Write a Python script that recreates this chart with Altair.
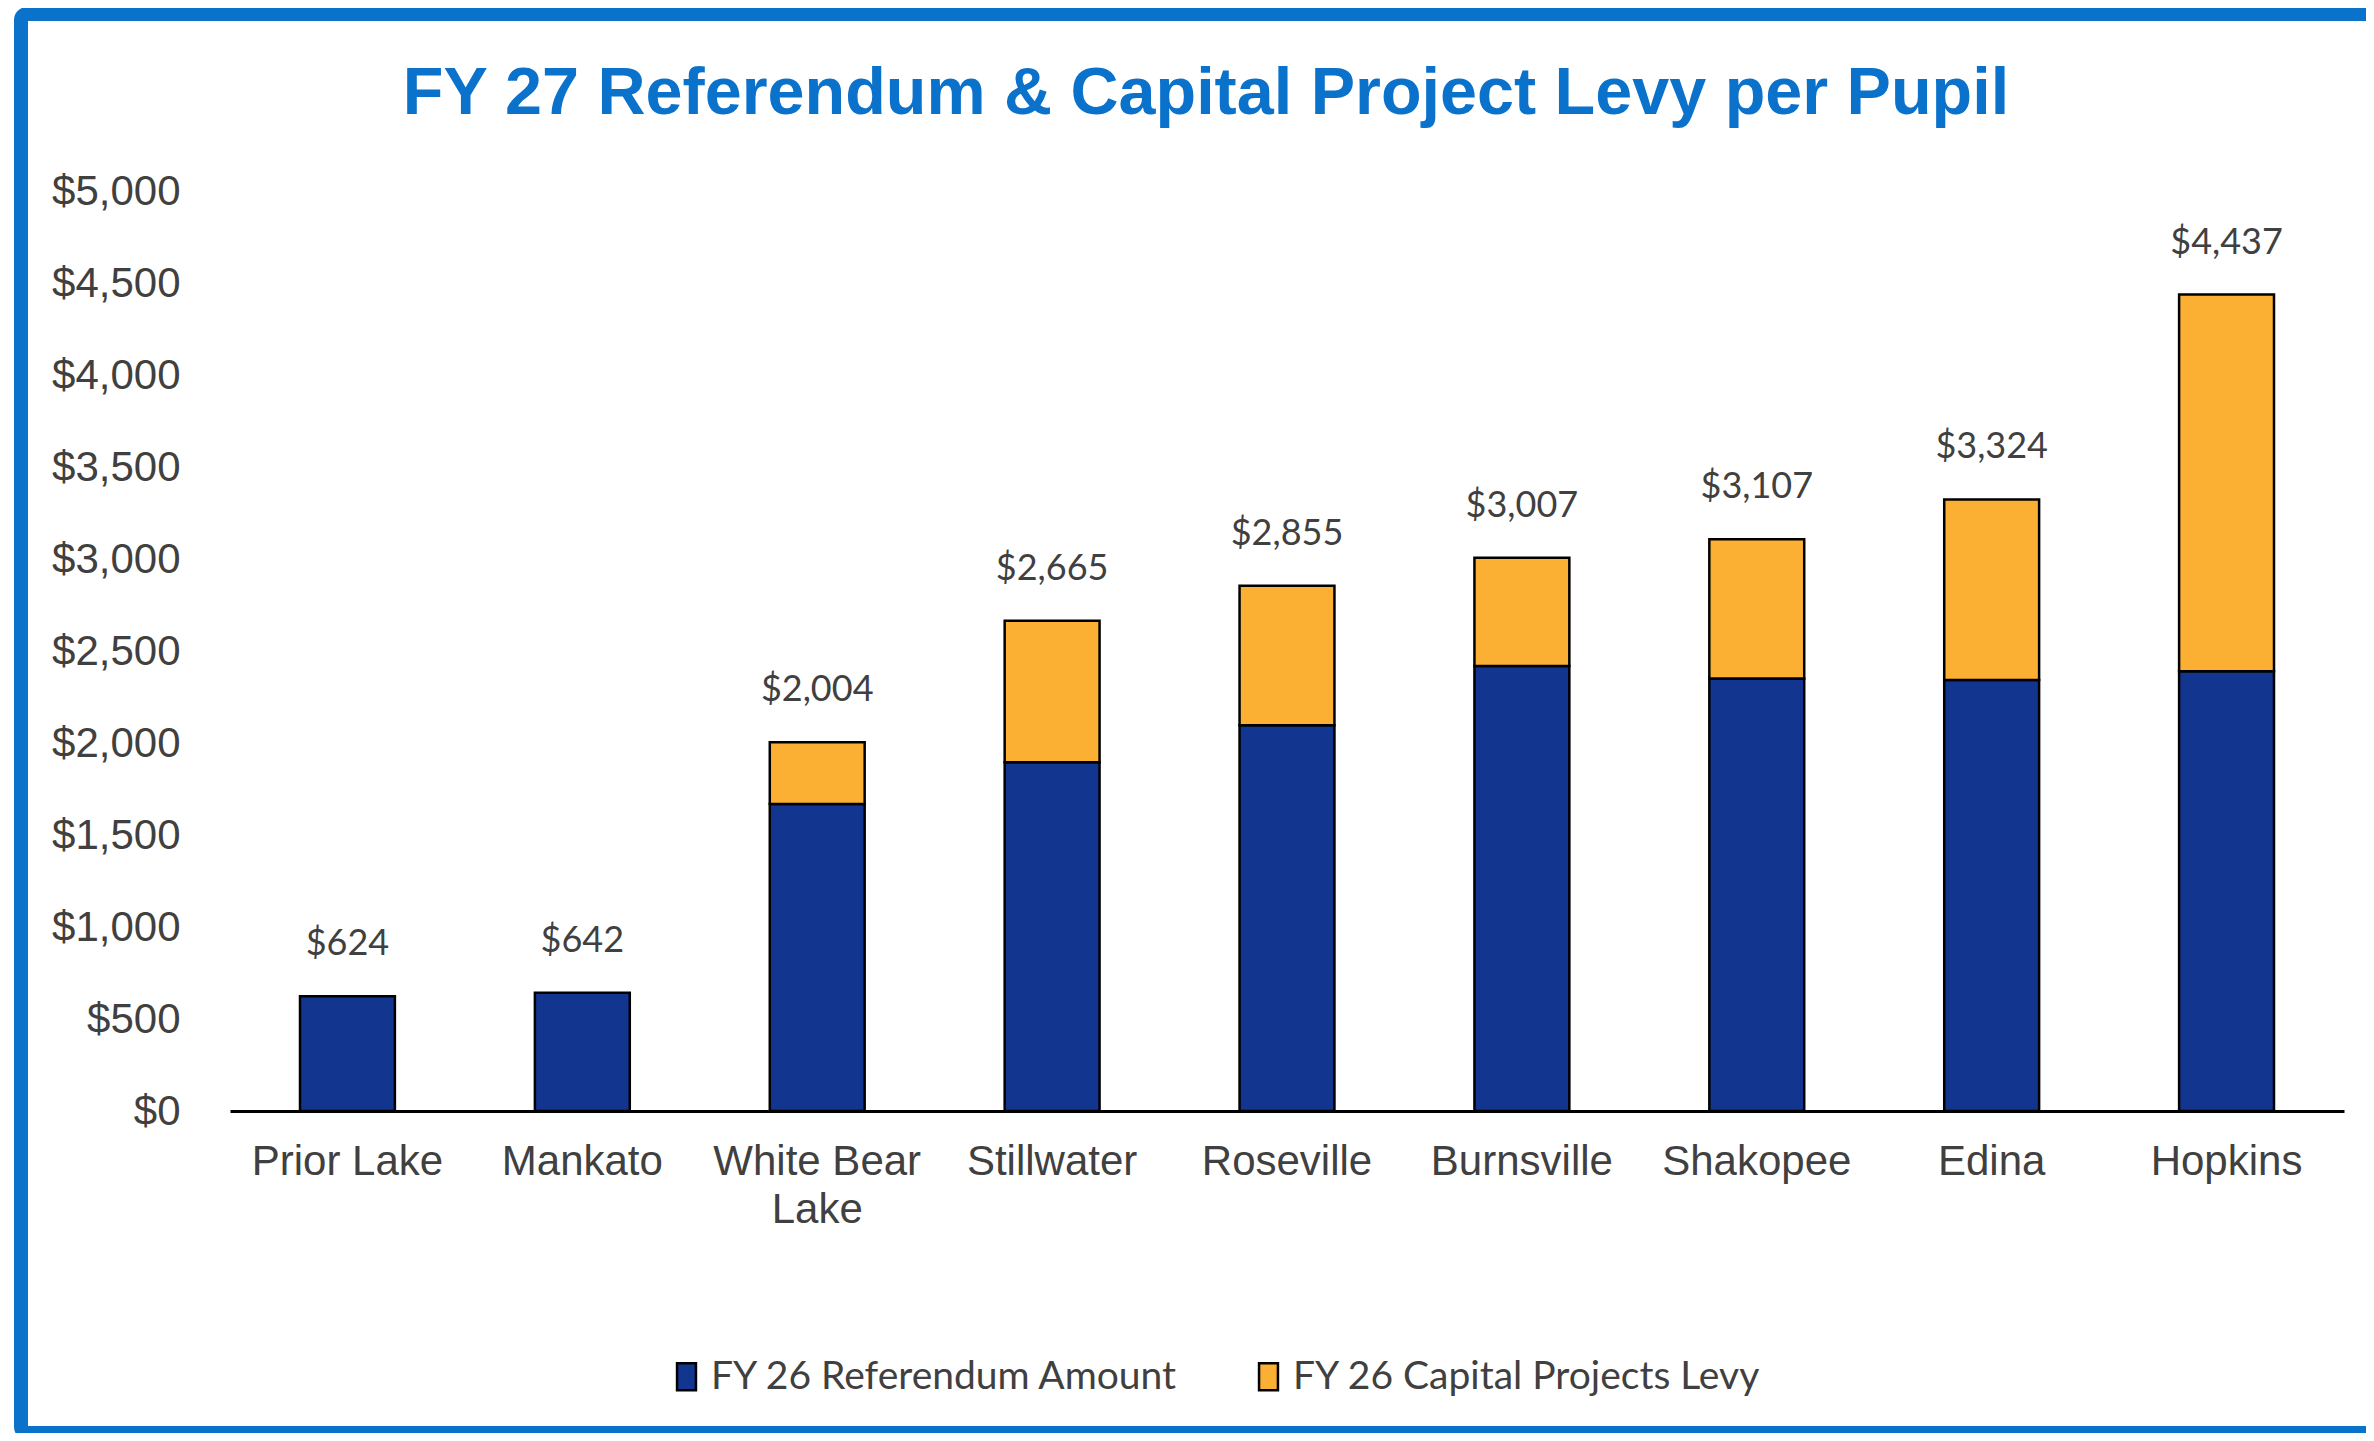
import altair as alt
import pandas as pd

districts = ["Prior Lake", "Mankato", "White Bear Lake", "Stillwater", "Roseville",
             "Burnsville", "Shakopee", "Edina", "Hopkins"]
referendum = [624, 642, 1669, 1896, 2096, 2418, 2350, 2342, 2390]
capital = [0, 0, 335, 769, 759, 589, 757, 982, 2047]
series = ["FY 26 Referendum Amount", "FY 26 Capital Projects Levy"]
series_colors = ["#12358F", "#FBB034"]
y_ticks = [0, 500, 1000, 1500, 2000, 2500, 3000, 3500, 4000, 4500, 5000]

rows = []
for d, r, c in zip(districts, referendum, capital):
    if r > 0:
        rows.append({"district": d, "series": series[0], "value": r, "ord": 0})
    if c > 0:
        rows.append({"district": d, "series": series[1], "value": c, "ord": 1})
long_df = pd.DataFrame(rows)
tot_df = pd.DataFrame({"district": districts,
                       "total": [r + c for r, c in zip(referendum, capital)]})

x_enc = alt.X("district:N", sort=districts,
              scale=alt.Scale(paddingInner=0.596, paddingOuter=0.298),
              axis=alt.Axis(title=None, labelAngle=0, labelFont="Liberation Sans",
                            labelFontSize=42, labelColor="#404040", labelPadding=30,
                            labelLineHeight=48, ticks=False, domainColor="#000000",
                            domainWidth=3, labelLimit=400,
                            labelExpr="datum.label == 'White Bear Lake' ? ['White Bear', 'Lake'] : datum.label"))

bars = alt.Chart(long_df).mark_bar(stroke="#000000", strokeWidth=2.5).encode(
    x=x_enc,
    y=alt.Y("value:Q", stack="zero",
            scale=alt.Scale(domain=[0, 5000], nice=False),
            axis=alt.Axis(title=None, values=y_ticks, format="$,.0f", grid=False,
                          ticks=False, domain=False, labelFont="Liberation Sans",
                          labelFontSize=42, labelColor="#404040", labelPadding=50)),
    color=alt.Color("series:N", sort=series,
                    scale=alt.Scale(domain=series, range=series_colors),
                    legend=alt.Legend(title=None, orient="none", direction="horizontal",
                                      legendX=437, legendY=1166,
                                      labelFont="Lato", labelFontSize=39,
                                      labelColor="#404040", labelLimit=800,
                                      labelOffset=5, columnPadding=70,
                                      symbolType="M-0.7,-1H0.7V1H-0.7Z",
                                      symbolSize=729, symbolStrokeColor="#000000",
                                      symbolStrokeWidth=2.5, symbolOpacity=1)),
    order=alt.Order("ord:Q", sort="ascending"),
)

labels = alt.Chart(tot_df).mark_text(font="Lato", fontSize=36, color="#404040",
                                     baseline="middle", dy=-52).encode(
    x=alt.X("district:N", sort=districts),
    y=alt.Y("total:Q"),
    text=alt.Text("total:Q", format="$,.0f"),
)

border = alt.Chart(pd.DataFrame({"a": [0]})).mark_rect(
    filled=False, stroke="#0B72CC", strokeWidth=14, cornerRadius=6).encode(
    x=alt.value(-209), x2=alt.value(2200), y=alt.value(-177), y2=alt.value(1242))

chart = alt.layer(border, bars, labels).properties(
    width=2114, height=920,
    padding={"left": 222, "top": 183, "right": 22, "bottom": 322},
    autosize=alt.AutoSizeParams(type="none"),
    title=alt.TitleParams("FY 27 Referendum & Capital Project Levy per Pupil",
                          font="Liberation Sans", fontSize=66.5, fontWeight="bold",
                          color="#0B72CC", anchor="middle", dx=-81, offset=-120),
).configure_view(strokeWidth=0)

chart.save("out.html", embed_options={"renderer": "svg", "actions": False})
